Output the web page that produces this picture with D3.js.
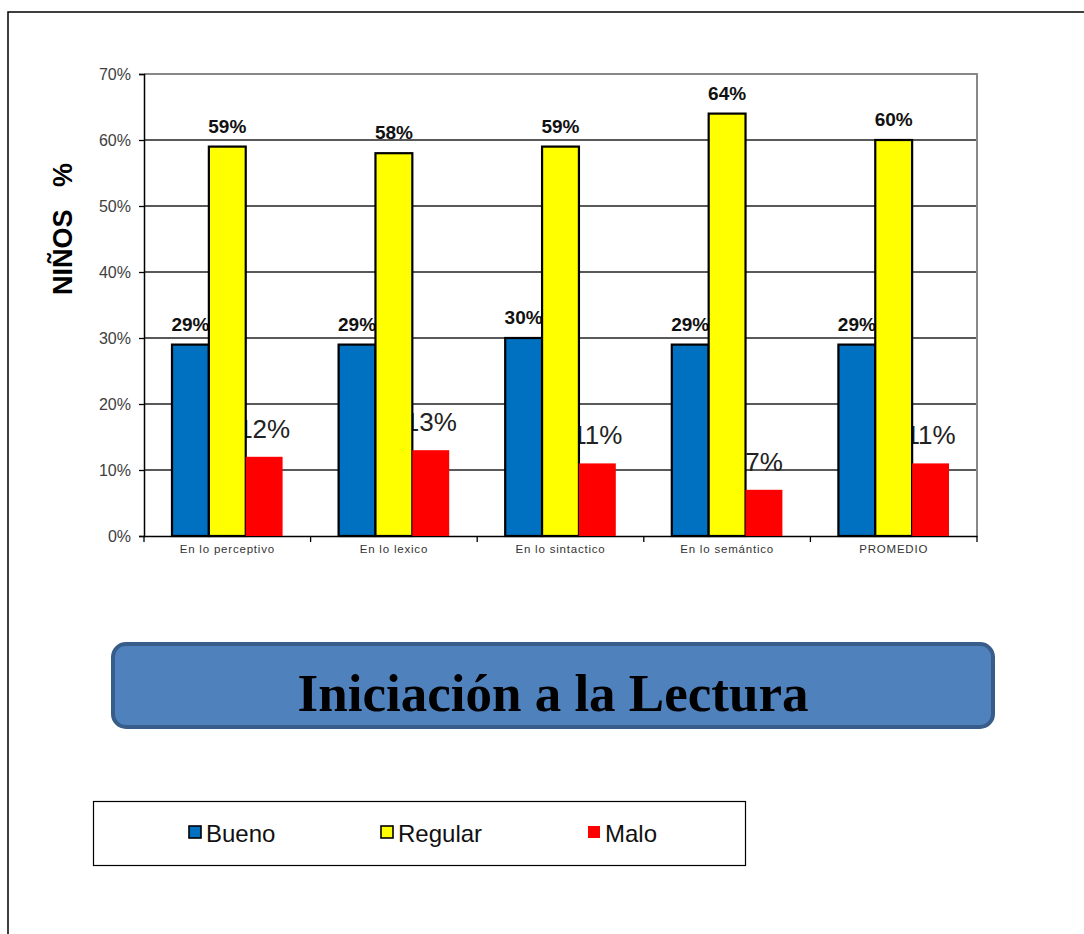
<!DOCTYPE html>
<html><head><meta charset="utf-8">
<script src="https://cdn.jsdelivr.net/npm/d3@7"></script>
<style>body{margin:0;background:#fff}svg{display:block}</style>
</head><body>
<svg id="c" width="1084" height="934"></svg>
<script>
const categories = ["En lo perceptivo","En lo lexico","En lo sintactico","En lo semántico","PROMEDIO"];
const series = ["Bueno","Regular","Malo"];
const bueno = [29,29,30,29,29];
const regular = [59,58,59,64,60];
const malo = [12,13,11,7,11];
const yTicks = [0,10,20,30,40,50,60,70];
const colors = ["#0070C0","#FFFF00","#FF0000"];
const title = "Iniciación a la Lectura";
const yTitle = "NIÑOS   %";

const values = [bueno, regular, malo];
const svg = d3.select("#c");
// outer frame
svg.append("path").attr("d","M8,934 V12 H1084").attr("fill","none").attr("stroke","#000").attr("stroke-width",1.5);

const L=144,R=977,T=74,B=536;
const x = d3.scaleBand().domain(categories).range([L,R]).padding(0);
const xs = d3.scaleBand().domain(series).range([28, x.bandwidth()-28]).padding(0);
const y = d3.scaleLinear().domain([0,70]).range([B,T]);

// gridlines
svg.append("g").selectAll("line").data(yTicks.filter(d=>d>0 && d<70)).join("line")
  .attr("x1",L).attr("x2",R).attr("y1",d=>y(d)).attr("y2",d=>y(d))
  .attr("stroke","#222").attr("stroke-width",1.3);
// top and right border (gray)
svg.append("path").attr("d",`M${L},${y(70)} H${R} V${B}`).attr("fill","none").attr("stroke","#888").attr("stroke-width",2);

// y axis
const yAxis = d3.axisLeft(y).tickValues(yTicks).tickFormat(d=>d+"%").tickSize(5).tickPadding(8);
const gy = svg.append("g").attr("transform",`translate(${L},0)`).call(yAxis);
gy.select(".domain").attr("stroke","#000").attr("stroke-width",1.5);
gy.selectAll(".tick line").attr("stroke","#000").attr("stroke-width",1.3);
gy.selectAll("text").attr("font-family","Arial, 'Liberation Sans', sans-serif").attr("font-size",16).attr("fill","#404040");

// x axis
const xAxis = d3.axisBottom(x).tickSize(0).tickPadding(9);
const gx = svg.append("g").attr("transform",`translate(0,${B})`).call(xAxis);
gx.select(".domain").attr("stroke","#000").attr("stroke-width",1.5);
gx.selectAll("text").attr("font-family","Arial, 'Liberation Sans', sans-serif").attr("font-size",11.5).attr("letter-spacing","0.8px").attr("fill","#333");
// category boundary ticks
svg.append("g").selectAll("line").data(categories.map(c=>x(c)).concat([R])).join("line")
  .attr("x1",d=>d).attr("x2",d=>d).attr("y1",B).attr("y2",B+6).attr("stroke","#000").attr("stroke-width",1.3);

// y title
svg.append("text").attr("transform","translate(72,229) rotate(-90)").attr("text-anchor","middle")
  .attr("font-family","Arial, 'Liberation Sans', sans-serif").attr("font-weight","bold").attr("font-size",27)
  .style("white-space","pre").text(yTitle);

// data
const data = [];
categories.forEach((c,i)=>series.forEach((s,j)=>data.push({c,s,j,v:values[j][i]})));

// labels (drawn before bars, bars overlap them)
const lbl = svg.append("g");
lbl.selectAll("text").data(data).join("text")
  .attr("x",d=>x(d.c)+xs(d.s)+xs.bandwidth()/2)
  .attr("y",d=>y(d.v) - (d.j===2?19:14))
  .attr("text-anchor","middle")
  .attr("font-family","Arial, 'Liberation Sans', sans-serif")
  .attr("font-weight",d=>d.j===2?"normal":"bold")
  .attr("font-size",d=>d.j===2?26:19)
  .attr("fill",d=>d.j===2?"#222":"#111")
  .text(d=>d.v+"%");

svg.append("g").selectAll("rect").data(data).join("rect")
  .attr("x",d=>x(d.c)+xs(d.s))
  .attr("y",d=>y(d.v))
  .attr("width",xs.bandwidth())
  .attr("height",d=>B-y(d.v))
  .attr("fill",d=>colors[d.j])
  .attr("stroke",d=>d.j===2?"none":"#000")
  .attr("stroke-width",2.2);

// title box
svg.append("rect").attr("x",113).attr("y",644).attr("width",880).attr("height",83).attr("rx",13)
  .attr("fill","#4F81BD").attr("stroke","#385D8A").attr("stroke-width",4);
svg.append("text").attr("x",553).attr("y",711).attr("text-anchor","middle")
  .attr("font-family","'Times New Roman', 'Liberation Serif', serif").attr("font-weight","bold").attr("font-size",53)
  .attr("fill","#000").text(title);

// legend
svg.append("rect").attr("x",93.5).attr("y",801.5).attr("width",652).attr("height",64)
  .attr("fill","#fff").attr("stroke","#000").attr("stroke-width",1.2);
const legX = [189,381,588];
const lg = svg.append("g").selectAll("g").data(series).join("g")
  .attr("transform",(d,i)=>`translate(${legX[i]},826)`);
lg.append("rect").attr("width",12).attr("height",12).attr("fill",(d,i)=>colors[i])
  .attr("stroke",(d,i)=>i===2?"none":"#000").attr("stroke-width",1.6);
lg.append("text").attr("x",17).attr("y",16).attr("font-family","Arial, 'Liberation Sans', sans-serif")
  .attr("font-size",24).attr("fill","#111").text(d=>d);
</script>
</body></html>
